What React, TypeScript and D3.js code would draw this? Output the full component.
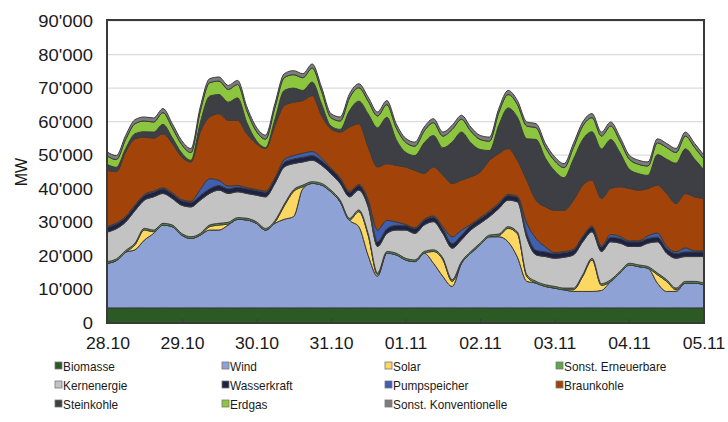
import { useEffect, useRef } from 'react';
import * as d3 from 'd3';

// 3-hourly samples, 28.10 00:00 .. 05.11 00:00 (65 points)
const dayLabels = ['28.10', '29.10', '30.10', '31.10', '01.11', '02.11', '03.11', '04.11', '05.11'];
const yTicks = [0, 10000, 20000, 30000, 40000, 50000, 60000, 70000, 80000, 90000];

const biomasse = [
  4500, 4500, 4500, 4500, 4500, 4500, 4500, 4500, 4500, 4500, 4500, 4500, 4500, 4500, 4500, 4500,
  4500, 4500, 4500, 4500, 4500, 4500, 4500, 4500, 4500, 4500, 4500, 4500, 4500, 4500, 4500, 4500,
  4500, 4500, 4500, 4500, 4500, 4500, 4500, 4500, 4500, 4500, 4500, 4500, 4500, 4500, 4500, 4500,
  4500, 4500, 4500, 4500, 4500, 4500, 4500, 4500, 4500, 4500, 4500, 4500, 4500, 4500, 4500, 4500,
  4500
];
const wind = [
  13300, 14100, 16600, 17300, 20200, 22200, 24700, 24200,
  21700, 20700, 21700, 23200, 23200, 24700, 26400, 26200,
  25200, 23200, 25200, 26400, 27200, 35600, 37100, 36600,
  34600, 31600, 26200, 24200, 15600, 9400, 16300, 15800,
  14300, 13800, 16300, 13300, 9400, 6400, 13300, 16300,
  18800, 21200, 21200, 19700, 15100, 7900, 7400, 6400,
  5900, 5400, 4900, 4900, 4900, 5200, 7900, 10400,
  12800, 12300, 11800, 7400, 4900, 4900, 7400, 7400,
  6900
];
const solar = [
  0, 0, 0, 1500, 3000, 500, 0, 0,
  0, 0, 0, 1000, 1500, 300, 0, 0,
  0, 0, 300, 4000, 7500, 500, 0, 0,
  0, 0, 0, 4500, 6000, 500, 0, 0,
  0, 0, 0, 3500, 5000, 1500, 0, 0,
  0, 0, 300, 4000, 7000, 1500, 0, 0,
  0, 0, 500, 4500, 9400, 1500, 0, 0,
  0, 0, 0, 2500, 3000, 500, 0, 0,
  0
];
const sonstErneuerbare = [
  500, 500, 500, 500, 500, 500, 500, 500, 500, 500, 500, 500, 500, 500, 500, 500,
  500, 500, 500, 500, 500, 500, 500, 500, 500, 500, 500, 500, 500, 500, 500, 500,
  500, 500, 500, 500, 500, 500, 500, 500, 500, 500, 500, 500, 500, 500, 500, 500,
  500, 500, 500, 500, 500, 500, 500, 500, 500, 500, 500, 500, 500, 500, 500, 500,
  500
];
const kernenergie = [
  8800, 9000, 8500, 9700, 8400, 9900, 8900, 7900,
  8400, 8900, 9900, 9400, 9900, 8600, 7700, 7400,
  7900, 9400, 11100, 11100, 7800, 6900, 6400, 5400,
  4900, 5000, 6400, 5900, 8000, 7900, 5400, 6900,
  8400, 7900, 7900, 8400, 7300, 9400, 6500, 6400,
  5900, 5500, 7600, 7900, 9000, 11000, 7900, 8400,
  8400, 9200, 9900, 9800, 7900, 9600, 11300, 8400,
  5000, 5500, 7000, 9300, 7900, 8900, 7400, 7400,
  7900
];
const wasserkraft = [
  1400, 1400, 1400, 1400, 1400, 1400, 1400, 1400, 1400, 1400, 1400, 1400, 1400, 1400, 1400, 1400,
  1400, 1400, 1400, 1400, 1400, 1400, 1400, 1400, 1400, 1400, 1400, 1400, 1400, 1400, 1400, 1400,
  1400, 1400, 1400, 1400, 1400, 1400, 1400, 1400, 1400, 1400, 1400, 1400, 1400, 1400, 1400, 1400,
  1400, 1400, 1400, 1400, 1400, 1400, 1400, 1400, 1400, 1400, 1400, 1400, 1400, 1400, 1400, 1400,
  1400
];
const pumpspeicher = [
  300, 300, 300, 300, 300, 300, 300, 300,
  300, 300, 1800, 3000, 1500, 800, 500, 300,
  300, 300, 300, 800, 1000, 1200, 1200, 800,
  300, 300, 300, 300, 800, 3500, 2500, 1000,
  300, 300, 300, 300, 600, 2000, 1500, 300,
  300, 300, 300, 300, 300, 3000, 3500, 1500,
  300, 300, 300, 300, 300, 300, 800, 600,
  300, 300, 800, 1200, 600, 500, 1200, 300,
  300
];
const braunkohle = [
  16700, 15300, 19200, 19700, 17100, 15800, 16100, 14700,
  12700, 11700, 17200, 18400, 19900, 19600, 19400, 16100,
  13700, 12700, 15600, 16100, 15900, 15700, 16700, 12700,
  11700, 13600, 19100, 18100, 15700, 18800, 16900, 16900,
  17100, 17100, 13700, 14600, 15400, 15900, 14900, 14200,
  13600, 15100, 14700, 13700, 10700, 12800, 11400, 11900,
  12600, 12300, 14600, 15200, 13700, 14100, 13700, 14800,
  15600, 15100, 14100, 14300, 15800, 14400, 16200, 16100,
  15600
];
const steinkohle = [
  1800, 1300, 1000, 1500, 1600, 1800, 2800, 1700,
  1200, 500, 2700, 6200, 5700, 5400, 6700, 3300,
  900, 300, 1800, 4500, 4200, 3000, 4000, 3400,
  800, 800, 4900, 6700, 9800, 11700, 13800, 7700,
  4400, 4400, 9100, 9400, 8100, 12300, 14300, 10100,
  6700, 2900, 8400, 12100, 12800, 12300, 18100, 14500,
  11700, 9700, 12200, 13600, 14400, 14800, 14600, 10100,
  5700, 4900, 3900, 9100, 10200, 12000, 13300, 11200,
  8500
];
const erdgas = [
  2500, 2300, 2700, 3000, 3200, 3000, 3500, 3000,
  2500, 2300, 3500, 4000, 4000, 3800, 4000, 3500,
  2800, 2500, 3500, 3800, 4000, 3800, 4200, 3800,
  2500, 2500, 3800, 4000, 3800, 3500, 3800, 3500,
  3000, 2800, 3500, 3800, 3500, 3800, 3800, 3500,
  3000, 2800, 3800, 4000, 3800, 3800, 3500, 3200,
  3000, 3000, 3500, 4000, 4200, 3800, 4000, 3500,
  3000, 2800, 2800, 3500, 3500, 3200, 3800, 3500,
  3200
];
const sonstKonventionelle = [
  1200, 1200, 1200, 1200, 1200, 1200, 1200, 1200, 1200, 1200, 1200, 1200, 1200, 1200, 1200, 1200,
  1200, 1200, 1200, 1200, 1200, 1200, 1200, 1200, 1200, 1200, 1200, 1200, 1200, 1200, 1200, 1200,
  1200, 1200, 1200, 1200, 1200, 1200, 1200, 1200, 1200, 1200, 1200, 1200, 1200, 1200, 1200, 1200,
  1200, 1200, 1200, 1200, 1200, 1200, 1200, 1200, 1200, 1200, 1200, 1200, 1200, 1200, 1200, 1200,
  1200
];

const seriesNames = [
  'Biomasse', 'Wind', 'Solar', 'Sonst. Erneuerbare', 'Kernenergie', 'Wasserkraft',
  'Pumpspeicher', 'Braunkohle', 'Steinkohle', 'Erdgas', 'Sonst. Konventionelle'
];
const seriesValues = [
  biomasse, wind, solar, sonstErneuerbare, kernenergie, wasserkraft,
  pumpspeicher, braunkohle, steinkohle, erdgas, sonstKonventionelle
];
const seriesColors = [
  '#2c5a24', '#8fa2d6', '#fcd862', '#62a550', '#c3c3c3', '#1d2245',
  '#3f5fb0', '#a2440a', '#3d3f45', '#8cc63e', '#7d7d7d'
];

export default function App() {
  const svgRef = useRef<SVGSVGElement>(null);

  useEffect(() => {
    const svg = d3.select(svgRef.current);
    svg.selectAll('*').remove();

    const width = 728;
    const height = 422;
    const left = 107, right = 704, top = 21, bottom = 323;

    const n = wind.length;
    const rows = d3.range(n).map(i => {
      const row: any = { i };
      seriesNames.forEach((name, s) => { row[name] = seriesValues[s][i]; });
      return row;
    });

    const x = d3.scaleLinear().domain([0, n - 1]).range([left, right]);
    const y = d3.scaleLinear().domain([0, 90000]).range([bottom, top]);
    const xDay = d3.scalePoint().domain(dayLabels).range([left + 1, right]);

    svg.attr('width', width).attr('height', height);

    // gridlines
    svg.append('g')
      .selectAll('line')
      .data(yTicks.slice(1))
      .join('line')
      .attr('x1', left)
      .attr('x2', right)
      .attr('y1', d => y(d))
      .attr('y2', d => y(d))
      .attr('stroke', '#dcdcdc')
      .attr('stroke-width', 1.2);

    const stack = d3.stack().keys(seriesNames);
    const layers = stack(rows);

    const area = d3.area<any>()
      .x(d => x(d.data.i))
      .y0(d => y(d[0]))
      .y1(d => y(d[1]))
      .curve(d3.curveMonotoneX);

    svg.append('g')
      .selectAll('path')
      .data(layers)
      .join('path')
      .attr('d', area)
      .attr('fill', (_, i) => seriesColors[i])
      .attr('stroke', '#3b3b3b')
      .attr('stroke-width', 1)
      .attr('stroke-linejoin', 'round');

    // frame
    svg.append('rect')
      .attr('x', left)
      .attr('y', top - 1)
      .attr('width', right - left)
      .attr('height', bottom - top + 1)
      .attr('fill', 'none')
      .attr('stroke', '#3a3a3a')
      .attr('stroke-width', 2);

    // x ticks
    svg.append('g')
      .selectAll('line')
      .data(dayLabels)
      .join('line')
      .attr('x1', d => xDay(d))
      .attr('x2', d => xDay(d))
      .attr('y1', bottom)
      .attr('y2', bottom - 4)
      .attr('stroke', '#3a3a3a')
      .attr('stroke-width', 1);

    const fmt = d3.formatLocale({ decimal: '.', thousands: "'", grouping: [3], currency: ['', ''] }).format(',');

    svg.append('g')
      .selectAll('text')
      .data(yTicks)
      .join('text')
      .attr('transform', d => `translate(93,${y(d) + 6}) scale(1.15,1)`)
      .attr('text-anchor', 'end')
      .style('font-family', 'Liberation Sans, Arial, sans-serif')
      .style('font-size', '16px')
      .attr('fill', '#1a1a1a')
      .text(d => fmt(d));

    svg.append('g')
      .selectAll('text')
      .data(dayLabels)
      .join('text')
      .attr('transform', d => `translate(${xDay(d)},349) scale(1.1,1)`)
      .attr('text-anchor', 'middle')
      .style('font-family', 'Liberation Sans, Arial, sans-serif')
      .style('font-size', '16px')
      .attr('fill', '#1a1a1a')
      .text(d => d);

    svg.append('text')
      .attr('transform', `translate(27,${(top + bottom) / 2}) rotate(-90)`)
      .attr('text-anchor', 'middle')
      .style('font-family', 'Liberation Sans, Arial, sans-serif')
      .style('font-size', '16px')
      .attr('fill', '#1a1a1a')
      .text('MW');

    // legend
    const colX = [55, 222, 385, 556];
    const rowY = [366, 385, 404];
    const legend = svg.append('g');
    seriesNames.forEach((name, i) => {
      const cx = colX[i % 4];
      const cy = rowY[Math.floor(i / 4)];
      legend.append('rect')
        .attr('x', cx)
        .attr('y', cy - 4)
        .attr('width', 7)
        .attr('height', 7)
        .attr('fill', seriesColors[i])
        .attr('stroke', '#777')
        .attr('stroke-width', 0.8);
      legend.append('text')
        .attr('transform', `translate(${cx + 8},${cy + 4.5}) scale(0.91,1)`)
        .style('font-family', 'Liberation Sans, Arial, sans-serif')
        .style('font-size', '13px')
        .attr('fill', '#1a1a1a')
        .text(name);
    });
  }, []);

  return <svg ref={svgRef} style={{ position: 'absolute', left: 0, top: 0 }}></svg>;
}
